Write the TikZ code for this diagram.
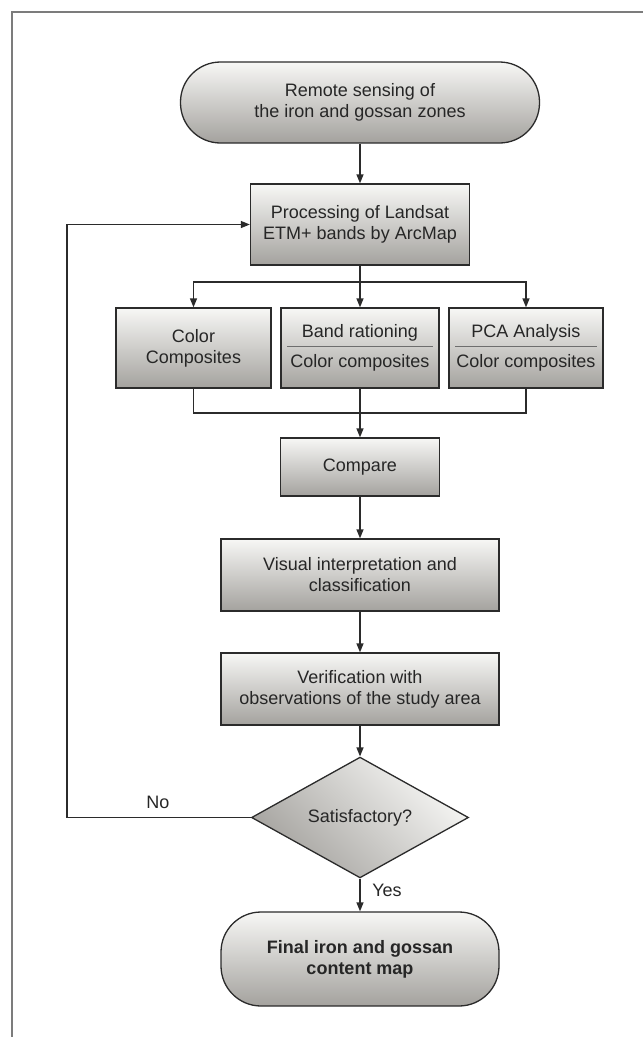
\documentclass[tikz,border=0pt]{standalone}
\usepackage{fontspec}
\setmainfont{Liberation Sans}
\usepackage{xcolor}
\usepackage{tikz}
\usetikzlibrary{calc,arrows.meta,shapes.geometric}
\definecolor{linec}{HTML}{2B2B2B}
\definecolor{framec}{HTML}{7C7C7C}
\definecolor{sepc}{HTML}{6E6E6E}
\definecolor{topc}{HTML}{F7F7F5}
\definecolor{botc}{HTML}{A4A29E}
\tikzset{
  ar/.style={-{Triangle[length=9pt,width=7pt]},line width=1.3pt,linec},
  ln/.style={line width=1.3pt,linec},
  bx/.style={rectangle,draw=linec,line width=1.3pt,top color=topc,bottom color=botc,align=center,inner sep=0pt,text=black!85,font=\fontsize{18}{21}\selectfont},
  tm/.style={bx,rounded corners=40pt},
  dm/.style={bx,diamond,shading angle=-45},
  lb/.style={text=black!85,font=\fontsize{18}{21}\selectfont}
}
\begin{document}
\begin{tikzpicture}[x=1pt,y=-1pt]
\useasboundingbox (0,0) rectangle (643,1037);
\draw[framec,line width=1.5pt] (12,1037) -- (12,12) -- (643,12);
\node[tm,minimum width=359pt,minimum height=81pt] (src) at (360,102.5) {Remote sensing of\\the iron and gossan zones};
\node[bx,minimum width=219pt,minimum height=81pt] (proc) at (360,224.5) {Processing of Landsat\\ETM+ bands by ArcMap};
\node[bx,minimum width=155pt,minimum height=80pt] (cc) at (193.5,348) {Color\\Composites};
\node[bx,minimum width=158pt,minimum height=80pt] (br) at (360,348) {Band rationing\\[9pt]Color composites};
\node[bx,minimum width=154pt,minimum height=80pt] (pca) at (526,348) {PCA Analysis\\[9pt]Color composites};
\draw[sepc,line width=0.8pt] ([xshift=7pt,yshift=2pt]br.west) -- ([xshift=-7pt,yshift=2pt]br.east);
\draw[sepc,line width=0.8pt] ([xshift=7pt,yshift=2pt]pca.west) -- ([xshift=-7pt,yshift=2pt]pca.east);
\node[bx,minimum width=159pt,minimum height=58pt] (cmp) at (360,467) {Compare};
\node[bx,minimum width=278pt,minimum height=72pt] (vis) at (360,575) {Visual interpretation and\\classification};
\node[bx,minimum width=278pt,minimum height=72pt] (ver) at (360,689) {Verification with\\observations of the study area};
\node[dm,minimum width=217pt,minimum height=99pt] (sat) at (360,817.5) {Satisfactory?};
\node[tm,minimum width=278pt,minimum height=94pt,font=\bfseries\fontsize{18}{21}\selectfont] (fin) at (360,959) {Final iron and gossan\\content map};
\coordinate (split) at (360,282); \coordinate (join) at (360,413); \coordinate (fb) at (67,817.5);
% main flow
\draw[ar] (src) -- (proc);
\draw[ar] (proc) -- (br); \draw[ar] (split) -| (cc); \draw[ar] (split) -| (pca);
\draw[ln] (cc) |- (join); \draw[ln] (pca) |- (join);
\draw[ar] (br) -- (cmp); \draw[ar] (cmp) -- (vis); \draw[ar] (vis) -- (ver);
\draw[ar] (ver) -- (sat); \draw[ar] (sat) -- (fin);
% loop back
\draw[ar] (sat) -- (fb) |- (proc);
\node[lb] (no) at (158,802) {No}; \node[lb] (yes) at (387,890) {Yes};
\end{tikzpicture}
\end{document}
